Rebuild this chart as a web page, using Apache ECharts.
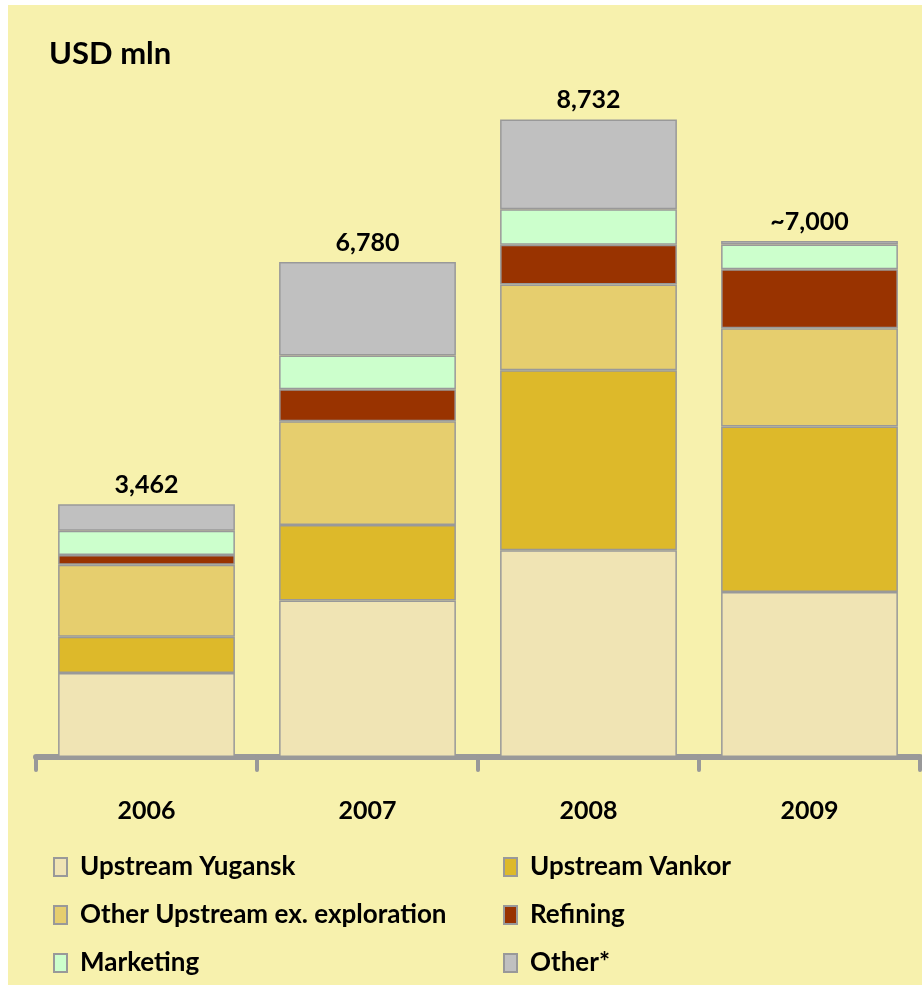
<!DOCTYPE html>
<html>
<head>
<meta charset="utf-8">
<script src="https://cdn.jsdelivr.net/npm/echarts@6/dist/echarts.min.js"></script>
<style>
  html, body { margin: 0; padding: 0; background: #fff; }
  #main { width: 922px; height: 987px; }
</style>
</head>
<body>
<div id="main"></div>
<script>
// 年份与各板块数据 (USD mln)
var years = ['2006', '2007', '2008', '2009'];
var totals = ['3,462', '6,780', '8,732', '~7,000'];
var yugansk = [1149, 2145, 2833, 2259];
var vankor = [497, 1034, 2464, 2268];
var otherUpstream = [988, 1421, 1177, 1346];
var refining = [134, 437, 543, 808];
var marketing = [331, 464, 487, 338];
var other = [363, 1279, 1228, 49];

var FONT = 'Lato, "Open Sans", sans-serif';
var chart = echarts.init(document.getElementById('main'));

function bar(name, data, color) {
	return {
		name: name,
		type: 'bar',
		stack: 'total',
		barCategoryGap: '20%',
		data: data,
		itemStyle: {
			color: color,
			borderColor: '#999999',
			borderWidth: 1.5
		}
	};
}

var series = [
	bar('Upstream Yugansk', yugansk, '#F0E4B4'),
	bar('Upstream Vankor', vankor, '#DDB92A'),
	bar('Other Upstream ex. exploration', otherUpstream, '#E6CE6E'),
	bar('Refining', refining, '#993300'),
	bar('Marketing', marketing, '#CCFFCC'),
	bar('Other*', other, '#C0C0C0')
];
// 柱顶合计
series[5].label = {
	show: true,
	position: 'top',
	distance: 7,
	color: '#000',
	fontFamily: FONT,
	fontWeight: 'bold',
	fontSize: 25,
	formatter: function (p) { return totals[p.dataIndex]; }
};

var legendText = {
	color: '#000',
	fontFamily: FONT,
	fontWeight: 'bold',
	fontSize: 26,
	padding: [0, 0, 0, 8]
};

var option = {
	animation: false,
	graphic: [{
		type: 'rect',
		z: -10,
		shape: { x: 8, y: 5, width: 914, height: 980 },
		style: { fill: '#F7F1AD' }
	}],
	title: {
		text: 'USD mln',
		left: 44,
		top: 33,
		textStyle: { color: '#000', fontFamily: FONT, fontWeight: 'bold', fontSize: 31 }
	},
	legend: [{
		orient: 'vertical',
		left: 48,
		top: 849,
		height: 140,
		itemWidth: 13,
		itemHeight: 18,
		itemGap: 22,
		icon: 'rect',
		textStyle: legendText,
		data: ['Upstream Yugansk', 'Other Upstream ex. exploration', 'Marketing']
	}, {
		orient: 'vertical',
		left: 498,
		top: 849,
		height: 140,
		itemWidth: 13,
		itemHeight: 18,
		itemGap: 22,
		icon: 'rect',
		textStyle: legendText,
		data: ['Upstream Vankor', 'Refining', 'Other*']
	}],
	grid: { left: 36, right: 2, top: 27, bottom: 230 },
	xAxis: {
		type: 'category',
		data: years,
		offset: 3,
		axisLine: { lineStyle: { color: '#999999', width: 6 } },
		axisTick: { show: true, interval: 0, length: 13, lineStyle: { color: '#999999', width: 4, cap: 'round' } },
		axisLabel: {
			margin: 38,
			color: '#000',
			fontFamily: FONT,
			fontWeight: 'bold',
			fontSize: 25
		}
	},
	yAxis: {
		type: 'value',
		min: 0,
		max: 10000,
		show: false,
		splitLine: { show: false }
	},
	series: series
};

chart.setOption(option);
</script>
</body>
</html>
